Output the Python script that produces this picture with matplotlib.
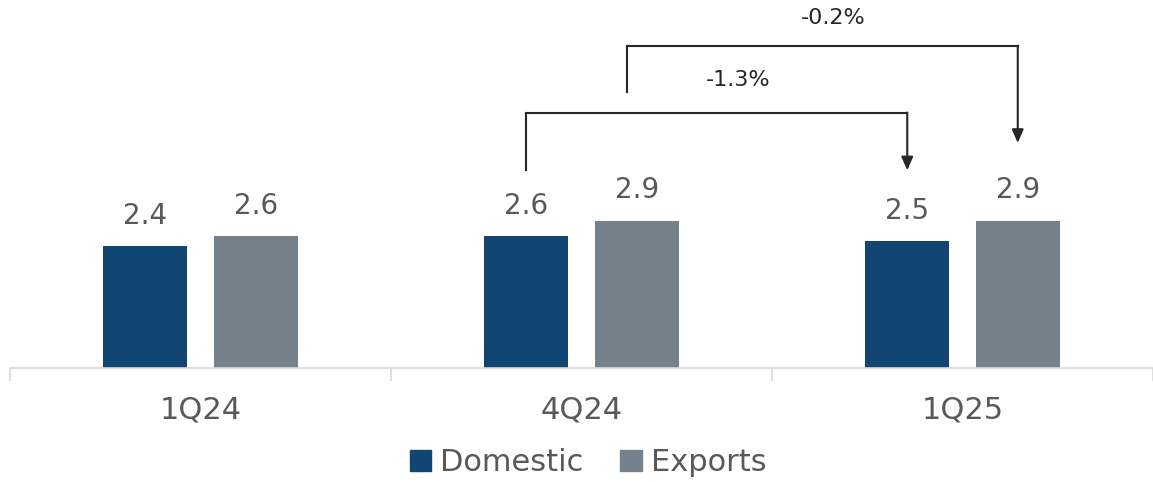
import numpy as np
import matplotlib
matplotlib.use('Agg')
import matplotlib.pyplot as plt
from matplotlib.patches import Patch

# ===== DATA =====
quarters = ['1Q24', '4Q24', '1Q25']
domestic = [2.4, 2.6, 2.5]
exports = [2.6, 2.9, 2.9]
changes = ['-1.3%', '-0.2%']

# ===== STYLE =====
BLUE = '#124672'
GREY = '#76828b'
TEXT = '#595959'
ARROW = '#262626'
BAR_W = 0.22
OFFSET = 0.145

plt.rcParams['font.family'] = ['DejaVu Sans']

fig = plt.figure(figsize=(11.53, 4.82), dpi=100)
ax = fig.add_axes([0.0087, 0.2365, 0.9913, 0.7635])

x = np.arange(len(quarters))
b1 = ax.bar(x - OFFSET, domestic, BAR_W, color=BLUE)
b2 = ax.bar(x + OFFSET, exports, BAR_W, color=GREY)

for bars, vals in ((b1, domestic), (b2, exports)):
    for rect, v in zip(bars, vals):
        ax.annotate(f'{v:.1f}', (rect.get_x() + rect.get_width() / 2, v),
                    xytext=(0, 12), textcoords='offset points',
                    ha='center', va='bottom', fontsize=20, color=TEXT)

ax.set_xlim(-0.5, 2.5)
ax.set_ylim(0, 7.26)
for s in ['top', 'right', 'left']:
    ax.spines[s].set_visible(False)
ax.spines['bottom'].set_color('#d9d9d9')
ax.spines['bottom'].set_linewidth(1.2)
ax.set_yticks([])
ax.set_xticks(x)
ax.set_xticklabels(quarters, fontsize=22, color=TEXT)
ax.tick_params(axis='x', which='major', length=0, pad=20)
ax.set_xticks(np.arange(-0.5, 3.0, 1.0), minor=True)
ax.tick_params(axis='x', which='minor', length=9, width=1.2, color='#d9d9d9')


def bracket(x0, x1, y_start, y_top, y_tip, label, label_x, label_y):
    ax.plot([x0, x0, x1], [y_start, y_top, y_top], color=ARROW, lw=1.5,
            solid_joinstyle='miter', clip_on=False)
    ax.annotate('', xy=(x1, y_tip), xytext=(x1, y_top + 0.01),
                arrowprops=dict(arrowstyle='-|>,head_length=0.8,head_width=0.35',
                                color=ARROW, lw=1.5, shrinkA=0, shrinkB=0))
    ax.text(label_x, label_y, label, ha='center', va='center',
            fontsize=16, color=ARROW)


# domestic 4Q24 -> 1Q25
bracket(1 - OFFSET, 2 - OFFSET, 3.9, 5.03, 3.9, changes[0], 1.41, 5.68)
# exports 4Q24 -> 1Q25
bracket(1 + OFFSET - 0.025, 2 + OFFSET, 5.44, 6.35, 4.44, changes[1], 1.66, 6.9)

handles = [Patch(color=BLUE, label='Domestic'), Patch(color=GREY, label='Exports')]
leg = fig.legend(handles=handles, loc='center', bbox_to_anchor=(0.51, 0.04),
                 ncol=2, frameon=False, fontsize=22, handlelength=0.7,
                 handleheight=0.7, handletextpad=0.3, columnspacing=1.2)
for t in leg.get_texts():
    t.set_color(TEXT)

plt.savefig('out.png', dpi=100)
plt.close()
